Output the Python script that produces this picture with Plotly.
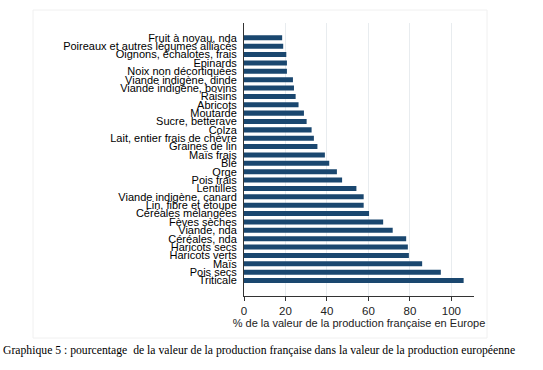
import plotly.graph_objects as go

categories = [
    "Fruit à noyau, nda",
    "Poireaux et autres légumes alliacés",
    "Oignons, échalotes, frais",
    "Epinards",
    "Noix non décortiquées",
    "Viande indigène, dinde",
    "Viande indigène, bovins",
    "Raisins",
    "Abricots",
    "Moutarde",
    "Sucre, betterave",
    "Colza",
    "Lait, entier frais de chèvre",
    "Graines de lin",
    "Maïs frais",
    "Blé",
    "Orge",
    "Pois frais",
    "Lentilles",
    "Viande indigène, canard",
    "Lin, fibre et étoupe",
    "Céréales mélangées",
    "Fèves sèches",
    "Viande, nda",
    "Céréales, nda",
    "Haricots secs",
    "Haricots verts",
    "Maïs",
    "Pois secs",
    "Triticale",
]
values = [18.4, 18.9, 20.4, 20.7, 20.7, 23.6, 24.1, 24.9, 26.3, 28.9,
          30.2, 32.6, 33.7, 35.4, 39.0, 41.1, 44.8, 47.3, 54.2, 57.7,
          57.7, 60.3, 67.1, 71.7, 78.2, 79.0, 79.5, 85.9, 94.9, 105.9]
x_ticks = [0, 20, 40, 60, 80, 100]
x_title = "% de la valeur de la production française en Europe"
caption = ("Graphique 5 : pourcentage  de la valeur de la production française "
           "dans la valeur de la production européenne")

W, H = 543, 370
L, R, T, B = 244, 69, 23, 74
pw, ph = W - L - R, H - T - B

def px_x(p):
    return (p - L) / pw

def px_y(p):
    return (H - B - p) / ph

fig = go.Figure(go.Bar(
    x=values, y=categories, orientation="h",
    marker=dict(color="#1a476f", line=dict(width=0)),
))

fig.update_layout(
    width=W, height=H,
    margin=dict(l=L, r=R, t=T, b=B, pad=0, autoexpand=False),
    paper_bgcolor="white", plot_bgcolor="white",
    bargap=0.4, showlegend=False,
    font=dict(family="Liberation Sans, Arial, sans-serif", color="black"),
    xaxis=dict(
        range=[0, 110.9], tickmode="array", tickvals=x_ticks, ticks="outside", ticklen=4,
        tickcolor="#333", showline=True, linecolor="#333", linewidth=1,
        showgrid=True, gridcolor="#e8ecef", gridwidth=1, zeroline=False,
        tickfont=dict(size=11.5, color="#222"), automargin=False,
        title=dict(text=x_title, font=dict(size=11, color="#222"), standoff=0),
    ),
    yaxis=dict(
        type="category", tickmode="array", tickvals=categories, ticktext=categories,
        range=[30.85, -1.77], showline=True, linecolor="#333", linewidth=1,
        ticks="", showgrid=False, zeroline=False, automargin=False,
        tickfont=dict(size=11, color="black"), ticklabelstandoff=4,
    ),
    shapes=[dict(type="rect", xref="paper", yref="paper",
                 x0=px_x(33), x1=px_x(487), y0=px_y(338), y1=px_y(10),
                 line=dict(color="#f0f0f0", width=1), fillcolor="rgba(0,0,0,0)",
                 layer="below")],
    annotations=[dict(text=caption, xref="paper", yref="paper",
                      x=px_x(1), y=px_y(350), xanchor="left", yanchor="middle",
                      showarrow=False,
                      font=dict(family="Liberation Serif, Times New Roman, serif",
                                size=11.7, color="black"))],
)

fig.write_html("out.html", config={"displayModeBar": False, "staticPlot": True},
               post_script="document.body.style.margin='0';document.body.style.overflow='hidden';")
